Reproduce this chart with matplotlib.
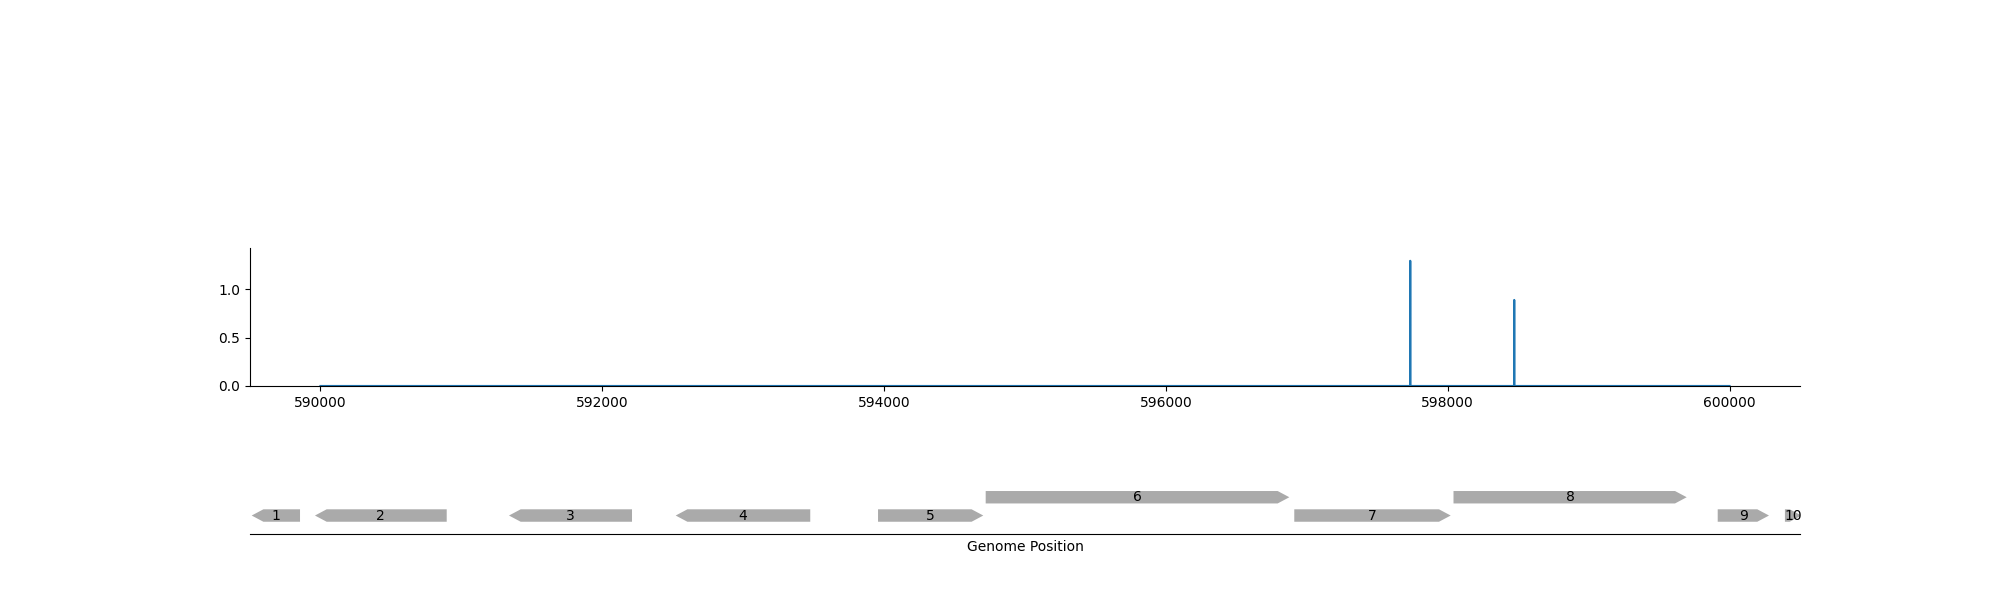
import matplotlib
matplotlib.use("Agg")
import matplotlib.pyplot as plt
from matplotlib.patches import Polygon

# Coverage track (only two spikes above zero)
cov_pos = [590000, 597733, 597734, 597735, 598471, 598472, 598473, 600000]
cov_val = [0, 0, 1.295, 0, 0, 0.89, 0, 0]

# Genes in the window
gene_names = ["1", "2", "3", "4", "5", "6", "7", "8", "9", "10"]
gene_start = [589512, 589961, 591338, 592521, 593957, 594721, 596911, 598041, 599916, 600393]
gene_end = [589855, 590896, 592211, 593476, 594704, 596876, 598021, 599696, 600280, 600510]
gene_strand = [-1, -1, -1, -1, 1, 1, 1, 1, 1, 1]
gene_level = [0, 0, 0, 0, 0, 1, 0, 1, 0, 0]

x_min, x_max = 589500, 600500

fig = plt.figure(figsize=(20, 6), dpi=100)

# top: coverage
ax = fig.add_axes([0.125, 0.3567, 0.775, 0.2295])
ax.plot(cov_pos, cov_val, color="#1f77b4", lw=1.5)
ax.set_xlim(x_min, x_max)
ax.set_ylim(0, max(cov_val) * 1.1)
ax.set_yticks([0.0, 0.5, 1.0])
ax.spines["top"].set_visible(False)
ax.spines["right"].set_visible(False)

# bottom: gene track
gax = fig.add_axes([0.125, 0.11, 0.775, 0.1067])
gax.set_xlim(x_min, x_max)
gax.set_ylim(-1.01, 2.49)
for s in ["top", "right", "left"]:
    gax.spines[s].set_visible(False)
gax.set_xticks([])
gax.set_yticks([])
gax.set_xlabel("Genome Position", fontsize=10)

h = 0.68
head = 83
for name, st, en, strand, lvl in zip(gene_names, gene_start, gene_end, gene_strand, gene_level):
    hd = min(head, en - st)
    y0, y1 = lvl - h / 2, lvl + h / 2
    if strand == 1:
        pts = [(st, y0), (en - hd, y0), (en, lvl), (en - hd, y1), (st, y1)]
    else:
        pts = [(en, y0), (st + hd, y0), (st, lvl), (st + hd, y1), (en, y1)]
    gax.add_patch(Polygon(pts, closed=True, facecolor="#aaaaaa", edgecolor="none"))
    gax.text((st + en) / 2, lvl, name, ha="center", va="center", fontsize=10)

fig.savefig("out.png", dpi=100)
